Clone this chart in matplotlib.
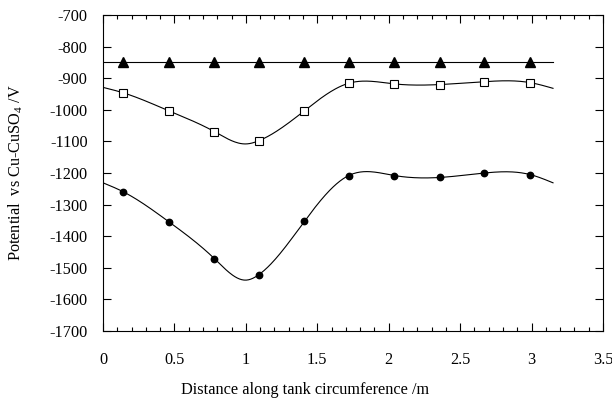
import numpy as np
import matplotlib
matplotlib.use("Agg")
import matplotlib.pyplot as plt
from matplotlib.ticker import MultipleLocator

plt.rcParams['font.family'] = ['Liberation Serif', 'DejaVu Serif']
plt.rcParams['mathtext.fontset'] = 'custom'
plt.rcParams['mathtext.rm'] = 'Liberation Serif'
plt.rcParams['axes.unicode_minus'] = False

# measurement positions around the tank (m)
distance = [0.14, 0.46, 0.78, 1.09, 1.41, 1.72, 2.04, 2.36, 2.67, 2.99]

# potentials (mV vs Cu-CuSO4)
criterion = [-850] * 10
pot_upper = [-946, -1003, -1069, -1098, -1003, -916, -918, -920, -911, -914]
pot_lower = [-1259, -1354, -1471, -1522, -1353, -1208, -1208, -1214, -1200, -1205]

# fitted curve knots (ends of fit and trough)
crit_line_x = [0.0, 3.15]
crit_line_y = [-850, -850]
fit_upper_x = [0.0, 0.14, 0.46, 0.78, 1.0, 1.09, 1.41, 1.72, 2.04, 2.36, 2.67, 2.99, 3.15]
fit_upper_y = [-929, -946, -1003, -1069, -1108, -1098, -1003, -916, -918, -920, -911, -914, -932]
fit_lower_x = [0.0, 0.14, 0.46, 0.78, 1.0, 1.09, 1.41, 1.72, 2.04, 2.36, 2.67, 2.99, 3.15]
fit_lower_y = [-1231, -1259, -1354, -1471, -1539, -1522, -1353, -1208, -1208, -1214, -1200, -1205, -1231]


def natural_spline(xk, yk, n=400):
    # plain natural cubic spline through the knots
    xk = np.asarray(xk, float)
    yk = np.asarray(yk, float)
    m = len(xk)
    h = np.diff(xk)
    A = np.zeros((m, m))
    b = np.zeros(m)
    A[0, 0] = A[-1, -1] = 1
    for i in range(1, m - 1):
        A[i, i - 1] = h[i - 1]
        A[i, i] = 2 * (h[i - 1] + h[i])
        A[i, i + 1] = h[i]
        b[i] = 6 * ((yk[i + 1] - yk[i]) / h[i] - (yk[i] - yk[i - 1]) / h[i - 1])
    M = np.linalg.solve(A, b)
    xs = np.linspace(xk[0], xk[-1], n)
    idx = np.clip(np.searchsorted(xk, xs) - 1, 0, m - 2)
    x0, x1 = xk[idx], xk[idx + 1]
    hh = x1 - x0
    t0, t1 = x1 - xs, xs - x0
    ys = (M[idx] * t0 ** 3 + M[idx + 1] * t1 ** 3) / (6 * hh) \
        + (yk[idx] / hh - M[idx] * hh / 6) * t0 \
        + (yk[idx + 1] / hh - M[idx + 1] * hh / 6) * t1
    return xs, ys


fig = plt.figure(figsize=(6.12, 3.98), dpi=100)
ax = fig.add_axes([0.1683, 0.1683, 0.817, 0.794])

lw = 0.8
ax.plot(crit_line_x, crit_line_y, color='black', lw=lw)
ax.plot(distance, criterion, ls='none', marker='^', ms=7, color='black')

xs, ys = natural_spline(fit_upper_x, fit_upper_y)
ax.plot(xs, ys, color='black', lw=lw)
ax.plot(distance, pot_upper, ls='none', marker='s', ms=5.5, mfc='white',
        mec='black', mew=0.8)

xs, ys = natural_spline(fit_lower_x, fit_lower_y)
ax.plot(xs, ys, color='black', lw=lw)
ax.plot(distance, pot_lower, ls='none', marker='o', ms=4.6, color='black')

ax.set_xlim(0, 3.5)
ax.set_ylim(-1700, -700)
ax.xaxis.set_minor_locator(MultipleLocator(0.1))
ax.yaxis.set_major_locator(MultipleLocator(100))
ax.set_xticks([0, 0.5, 1, 1.5, 2, 2.5, 3, 3.5])
ax.set_xticklabels(['0', '0.5', '1', '1.5', '2', '2.5', '3', '3.5'])

ax.tick_params(which='both', direction='in', top=True, right=True,
               labelsize=11.7, width=0.8)
ax.tick_params(which='major', length=6, pad=11)
ax.tick_params(axis='x', which='major', pad=15)
ax.tick_params(which='minor', length=3)
for s in ax.spines.values():
    s.set_linewidth(0.8)

ax.set_xlabel('Distance along tank circumference /m', fontsize=11.7)
ax.xaxis.set_label_coords(0.404, -0.16)
ax.set_ylabel('Potential  vs Cu-CuSO$_4$ /V', fontsize=11.7)
ax.yaxis.set_label_coords(-0.155, 0.5)

fig.savefig('out.png', dpi=100)
